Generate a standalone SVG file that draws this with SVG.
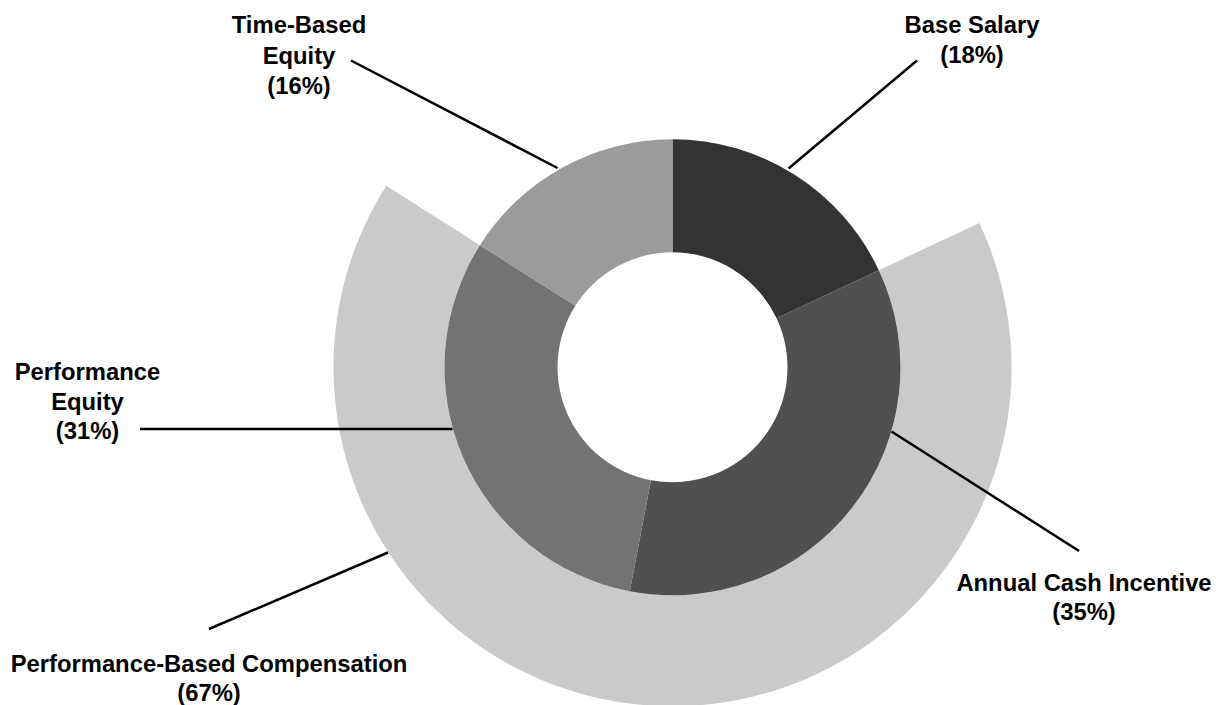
<svg xmlns="http://www.w3.org/2000/svg" width="1216" height="705" viewBox="0 0 1216 705">
<style>
text{font-family:"Liberation Sans",Arial,Helvetica,sans-serif;font-weight:bold;font-size:23.8px;fill:#000;text-anchor:middle}
.ln{stroke:#000;stroke-width:2.5;fill:none}
</style>
<rect width="1216" height="705" fill="#fff"/>
<g id="outer-ring">
<path fill="#cacaca" d="M979.24 222.96 A339 339 0 1 1 386.27 185.65 L479.99 245.13 A228 228 0 1 0 878.80 270.22 Z"/>
</g>
<g id="base-salary">
<path fill="#333333" d="M672.5 139.3 A228 228 0 0 1 878.80 270.22 L776.56 318.34 A115 115 0 0 0 672.5 252.3 Z"/>
</g>
<g id="annual-cash">
<path fill="#505050" d="M878.80 270.22 A228 228 0 0 1 629.78 591.26 L650.95 480.26 A115 115 0 0 0 776.56 318.34 Z"/>
</g>
<g id="performance-equity">
<path fill="#737373" d="M629.78 591.26 A228 228 0 0 1 479.99 245.13 L575.40 305.68 A115 115 0 0 0 650.95 480.26 Z"/>
</g>
<g id="time-based">
<path fill="#9b9b9b" d="M479.99 245.13 A228 228 0 0 1 672.5 139.3 L672.5 252.3 A115 115 0 0 0 575.40 305.68 Z"/>
</g>
<g id="connectors">
<line class="ln" x1="351" y1="60.5" x2="557.5" y2="168"/>
<line class="ln" x1="917" y1="60.5" x2="788.5" y2="168.5"/>
<line class="ln" x1="140" y1="429" x2="452.5" y2="429"/>
<line class="ln" x1="891.5" y1="431.5" x2="1079" y2="551"/>
<line class="ln" x1="388" y1="552.5" x2="209" y2="629"/>
</g>
<g id="label-time-based">
<text x="299" y="33">Time-Based</text>
<text x="299" y="64">Equity</text>
<text x="299" y="94">(16%)</text>
</g>
<g id="label-base-salary">
<text x="972" y="33">Base Salary</text>
<text x="972" y="63">(18%)</text>
</g>
<g id="label-performance-equity">
<text x="87.5" y="380">Performance</text>
<text x="87.5" y="410">Equity</text>
<text x="87.5" y="439">(31%)</text>
</g>
<g id="label-annual-cash">
<text x="1084" y="591">Annual Cash Incentive</text>
<text x="1084" y="620">(35%)</text>
</g>
<g id="label-performance-based">
<text x="209" y="672">Performance-Based Compensation</text>
<text x="209" y="701">(67%)</text>
</g>
</svg>
